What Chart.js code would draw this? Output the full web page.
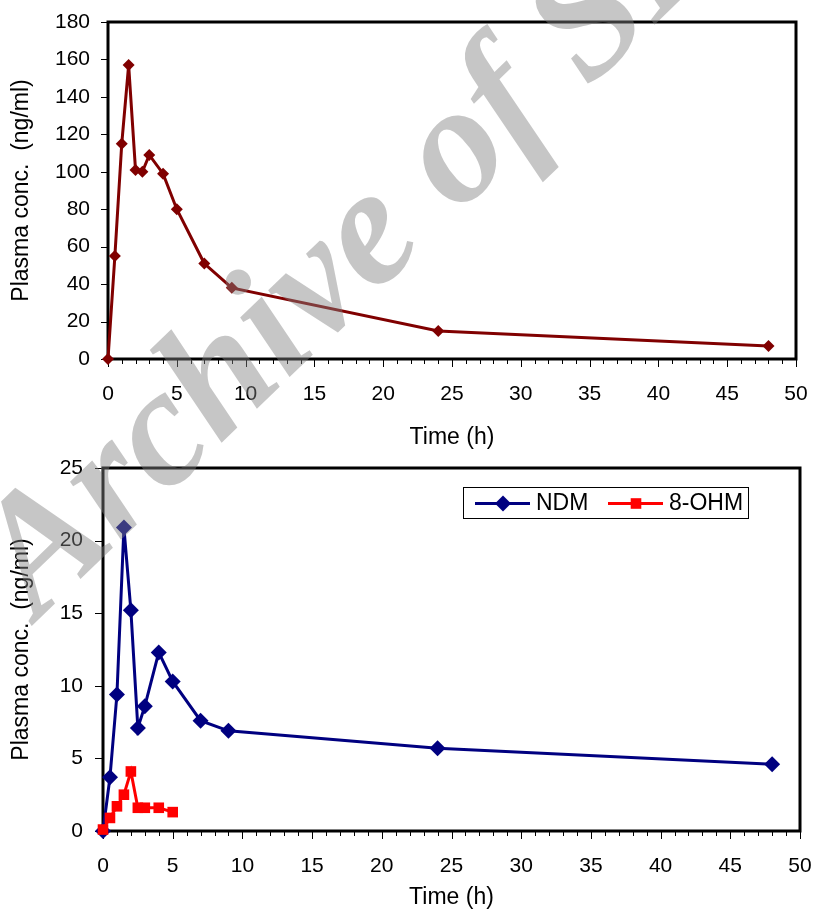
<!DOCTYPE html>
<html>
<head>
<meta charset="utf-8">
<script src="https://cdn.jsdelivr.net/npm/chart.js@4.4.0/dist/chart.umd.min.js"></script>
<style>
  body { margin: 0; background: #fff; }
  #wrap { position: relative; width: 814px; height: 912px; overflow: hidden; }
  canvas { position: absolute; left: 0; }
  #topChart { top: 0; }
  #bottomChart { top: 450px; }
  #mark { top: 0; z-index: 10; pointer-events: none; }
</style>
</head>
<body>
<div id="wrap">
  <canvas id="topChart" width="814" height="455"></canvas>
  <canvas id="bottomChart" width="814" height="462"></canvas>
  <canvas id="mark" width="814" height="912"></canvas>
</div>
<script>
// top panel: parent drug
const topTimes = [0, 0.5, 1, 1.5, 2, 2.5, 3, 4, 5, 7, 9, 24, 48];
const topConc = [0, 55, 115, 157, 101, 100, 109, 99, 80, 51, 38, 15, 7];

// bottom panel: metabolites
const ndmTimes = [0, 0.5, 1, 1.5, 2, 2.5, 3, 4, 5, 7, 9, 24, 48];
const ndmConc = [0, 3.7, 9.4, 20.9, 15.2, 7.1, 8.6, 12.3, 10.3, 7.6, 6.9, 5.7, 4.6];
const ohmTimes = [0, 0.5, 1, 1.5, 2, 2.5, 3, 4, 5];
const ohmConc = [0.1, 0.9, 1.7, 2.5, 4.1, 1.6, 1.6, 1.6, 1.3];

const seriesNames = ['NDM', '8-OHM'];
const xTitle = 'Time (h)';
const yTitle = 'Plasma conc.  (ng/ml)';

const FONT = '"Liberation Sans", Arial, sans-serif';

function toPoints(xs, ys) {
    return xs.map((x, i) => ({ x: x, y: ys[i] }));
}

// thick box round the plot area
const framePlugin = {
    id: 'frame',
    beforeDatasetsDraw(chart) {
        const { ctx, chartArea: a } = chart;
        ctx.save();
        ctx.lineWidth = 3;
        ctx.strokeStyle = '#000';
        ctx.strokeRect(a.left, a.top, a.right - a.left, a.bottom - a.top);
        ctx.restore();
    }
};

// outside tick marks: y at every label, x at every hour (longer every 5 h)
const tickMarksPlugin = {
    id: 'tickMarks',
    beforeDatasetsDraw(chart, args, opts) {
        const { ctx, chartArea: a } = chart;
        const sx = chart.scales.x, sy = chart.scales.y;
        ctx.save();
        ctx.lineWidth = 1;
        ctx.strokeStyle = '#000';
        ctx.beginPath();
        for (let v = sx.min; v <= sx.max; v++) {
            const px = Math.round(sx.getPixelForValue(v)) + 0.5;
            ctx.moveTo(px, a.bottom);
            ctx.lineTo(px, a.bottom + (v % 5 === 0 ? 8 : 5));
        }
        sy.ticks.forEach(t => {
            const py = Math.round(sy.getPixelForValue(t.value)) + 0.5;
            ctx.moveTo(a.left, py);
            ctx.lineTo(a.left - opts.yLen, py);
        });
        ctx.stroke();
        ctx.restore();
    }
};

function drawMarker(ctx, style, x, y, r, color) {
    ctx.fillStyle = color;
    ctx.beginPath();
    if (style === 'rectRot') {
        ctx.moveTo(x - r, y);
        ctx.lineTo(x, y - r);
        ctx.lineTo(x + r, y);
        ctx.lineTo(x, y + r);
    } else {
        const s = r * Math.SQRT1_2;
        ctx.rect(x - s, y - s, 2 * s, 2 * s);
    }
    ctx.closePath();
    ctx.fill();
}

// boxed legend inside the plot, like the original
const boxLegendPlugin = {
    id: 'boxLegend',
    afterDraw(chart) {
        const { ctx, chartArea: a } = chart;
        const w = 285, h = 31;
        const left = a.right - 52 - w;
        const top = a.top + 19;
        ctx.save();
        ctx.lineWidth = 1;
        ctx.strokeStyle = '#000';
        ctx.strokeRect(left + 0.5, top + 0.5, w, h);
        ctx.font = '23px ' + FONT;
        ctx.textBaseline = 'middle';
        ctx.textAlign = 'left';
        const cy = top + h / 2 + 1;
        const offsets = [12, 145];
        chart.data.datasets.forEach((ds, i) => {
            const x0 = left + offsets[i];
            ctx.strokeStyle = ds.borderColor;
            ctx.lineWidth = 3;
            ctx.beginPath();
            ctx.moveTo(x0, cy);
            ctx.lineTo(x0 + 55, cy);
            ctx.stroke();
            drawMarker(ctx, ds.pointStyle, x0 + 28, cy, ds.pointRadius, ds.borderColor);
            ctx.fillStyle = '#000';
            ctx.fillText(ds.label, x0 + 61, cy);
        });
        ctx.restore();
    }
};

// tick marks are drawn by the plugin, so the library's own ones are
// transparent and only used to push the labels out to the right distance
function makeOptions(cfg) {
    return {
        responsive: false,
        animation: false,
        devicePixelRatio: 1,
        layout: { padding: { top: cfg.padTop, right: cfg.padRight, left: 0, bottom: 0 } },
        plugins: {
            legend: { display: false },
            tooltip: { enabled: false },
            tickMarks: { yLen: cfg.yTick }
        },
        elements: { line: { tension: 0 } },
        scales: {
            x: {
                type: 'linear',
                min: 0,
                max: 50,
                border: { display: false },
                grid: { drawOnChartArea: false, tickLength: cfg.xLabelGap, tickColor: 'rgba(0,0,0,0)' },
                ticks: { stepSize: 5, color: '#000', padding: 0, font: { family: FONT, size: 21 } },
                title: { display: true, text: xTitle, color: '#000', font: { family: FONT, size: 23 }, padding: { bottom: cfg.xTitlePad, top: 0 } },
                afterFit: (scale) => { scale.height = cfg.xHeight; }
            },
            y: {
                min: 0,
                max: cfg.yMax,
                border: { display: false },
                grid: { drawOnChartArea: false, tickLength: cfg.yLabelGap, tickColor: 'rgba(0,0,0,0)' },
                ticks: { stepSize: cfg.yStep, color: '#000', padding: 0, font: { family: FONT, size: 21 } },
                title: { display: true, text: yTitle, color: '#000', font: { family: FONT, size: 23 }, padding: { top: 8, bottom: 0 } },
                afterFit: (scale) => { scale.width = cfg.yWidth; }
            }
        }
    };
}

new Chart(document.getElementById('topChart'), {
    type: 'line',
    data: {
        datasets: [{
            label: 'Plasma',
            data: toPoints(topTimes, topConc),
            borderColor: '#800000',
            backgroundColor: '#800000',
            borderWidth: 3,
            pointStyle: 'rectRot',
            pointRadius: 6,
            pointBorderWidth: 0,
            clip: false
        }]
    },
    options: makeOptions({ padTop: 22, padRight: 18, xHeight: 96, xLabelGap: 23, xTitlePad: 4, yMax: 180, yStep: 20, yTick: 7, yLabelGap: 18, yWidth: 108 }),
    plugins: [framePlugin, tickMarksPlugin]
});

new Chart(document.getElementById('bottomChart'), {
    type: 'line',
    data: {
        datasets: [{
            label: seriesNames[0],
            data: toPoints(ndmTimes, ndmConc),
            borderColor: '#000080',
            backgroundColor: '#000080',
            borderWidth: 3,
            pointStyle: 'rectRot',
            pointRadius: 8,
            pointBorderWidth: 0,
            order: 1,
            clip: false
        }, {
            label: seriesNames[1],
            data: toPoints(ohmTimes, ohmConc),
            borderColor: '#FF0000',
            backgroundColor: '#FF0000',
            borderWidth: 3,
            pointStyle: 'rect',
            pointRadius: 7.5,
            pointBorderWidth: 0,
            order: 0,
            clip: false
        }]
    },
    options: makeOptions({ padTop: 18, padRight: 14, xHeight: 81, xLabelGap: 23, xTitlePad: 1, yMax: 25, yStep: 5, yTick: 8, yLabelGap: 20, yWidth: 103 }),
    plugins: [framePlugin, tickMarksPlugin, boxLegendPlugin]
});

// grey watermark laid across the page
(function () {
    const ctx = document.getElementById('mark').getContext('2d');
    ctx.save();
    ctx.translate(38, 620);
    ctx.rotate(-44 * Math.PI / 180);
    ctx.font = 'italic bold 168px "Liberation Serif", "Times New Roman", serif';
    ctx.fillStyle = 'rgba(128, 128, 128, 0.45)';
    ctx.fillText('Archive of SID', 0, 0);
    ctx.restore();
})();
</script>
</body>
</html>
